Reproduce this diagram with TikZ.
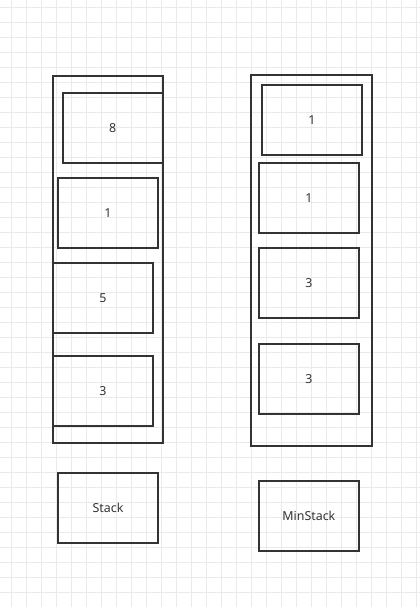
\documentclass[tikz,border=0pt]{standalone}
\usepackage{fontspec}
\setmainfont{Noto Sans}
\definecolor{inkgray}{HTML}{333333}
\definecolor{gridgray}{HTML}{EAEAEA}
\tikzset{
	cell/.style={draw=inkgray,line width=1.5pt,minimum width=75pt,minimum height=52.5pt,inner sep=0pt,text=inkgray,font=\fontsize{9.3}{11}\selectfont},
	holder/.style={draw=inkgray,line width=1.5pt,inner sep=0pt},
}

\begin{document}
\begin{tikzpicture}[x=0.75pt,y=-0.75pt]
	\useasboundingbox[fill=white] (0,0) rectangle (420,607);
	% background grid
	\foreach \gx in {0,...,27} \draw[gridgray,line width=0.75pt] (11.7+15*\gx,0)--(11.7+15*\gx,607);
	\foreach \gy in {0,...,39} \draw[gridgray,line width=0.75pt] (0,7.5+15*\gy)--(420,7.5+15*\gy);
	% stack
	\node[holder,minimum width=83pt,minimum height=275.7pt] (stack) at(108,259.5) {};
	\node[cell] (s8) at(112.7,127.7) {8};
	\node[cell] (s1) at(108,212.7) {1};
	\node[cell] (s5) at(103,297.7) {5};
	\node[cell] (s3) at(103,390.9) {3};
	\node[cell] (stacklabel) at(108,507.7) {Stack};
	% min stack
	\node[holder,minimum width=90.75pt,minimum height=278.25pt] (minstack) at(311.5,260.2) {};
	\node[cell] (m1a) at(312,119.9) {1};
	\node[cell] (m1b) at(308.9,197.9) {1};
	\node[cell] (m3a) at(308.9,282.7) {3};
	\node[cell] (m3b) at(308.9,378.9) {3};
	\node[cell] (minlabel) at(308.9,515.7) {MinStack};
\end{tikzpicture}
\end{document}
